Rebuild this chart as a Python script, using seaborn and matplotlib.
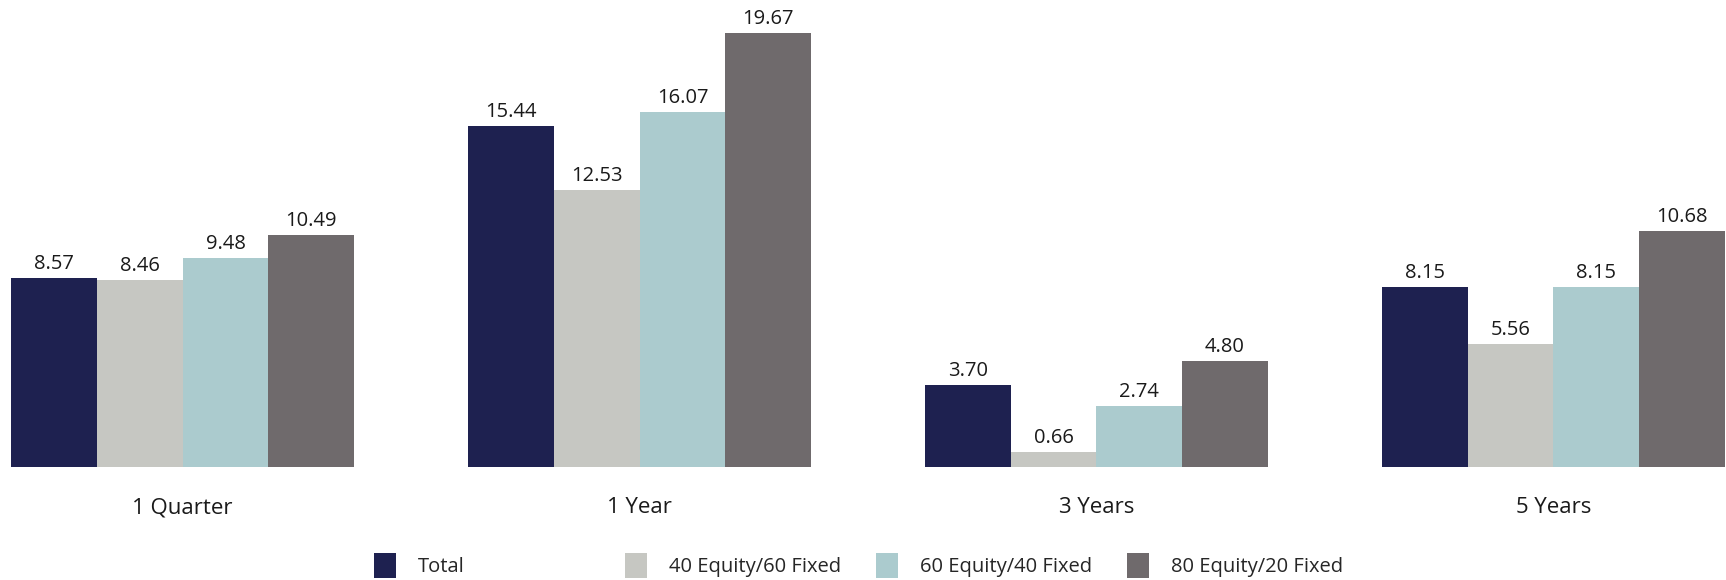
import pandas as pd
import matplotlib.pyplot as plt
import seaborn as sns
from matplotlib.patches import Patch

periods = ['1 Quarter', '1 Year', '3 Years', '5 Years']
series = ['Total', '40 Equity/60 Fixed', '60 Equity/40 Fixed', '80 Equity/20 Fixed']
total = [8.57, 15.44, 3.70, 8.15]
eq40 = [8.46, 12.53, 0.66, 5.56]
eq60 = [9.48, 16.07, 2.74, 8.15]
eq80 = [10.49, 19.67, 4.80, 10.68]
colors = ['#1E2150', '#C6C7C2', '#ABCBCE', '#6F6A6C']

rows = []
for name, vals in zip(series, [total, eq40, eq60, eq80]):
    for p, v in zip(periods, vals):
        rows.append({'Period': p, 'Series': name, 'Value': v})
df = pd.DataFrame(rows)

sns.set_theme(style="white")
plt.rcParams['font.family'] = ['Open Sans', 'DejaVu Sans']

fig = plt.figure(figsize=(17.26, 5.8), dpi=100)
ax = fig.add_axes([0, 0.195, 1, 0.805])
sns.barplot(data=df, x='Period', y='Value', hue='Series', palette=colors,
            width=0.75, saturation=1, linewidth=0, ax=ax, legend=False)

for c in ax.containers:
    ax.bar_label(c, fmt='%.2f', padding=3, fontsize=14.5, color='#1a1a1a')

ax.set_ylim(0, 21.16)
ax.set_xlim(-0.4, 3.378)
ax.set_xlabel('')
ax.set_ylabel('')
ax.set_yticks([])
ax.tick_params(axis='x', length=0, pad=22, labelsize=16, labelcolor='#1a1a1a')
sns.despine(ax=ax, left=True, bottom=True, top=True, right=True)

# legend: one entry per fixed slot
for i, (name, col) in enumerate(zip(series, colors)):
    fig.legend(handles=[Patch(color=col, linewidth=0)], labels=[name],
               loc='center left', bbox_to_anchor=(0.2165 + i * 0.1454, 0.025),
               frameon=False, fontsize=14.5, handlelength=1.1, handleheight=1.6,
               handletextpad=1.1, borderaxespad=0, borderpad=0)

fig.savefig('out.png', dpi=100)
